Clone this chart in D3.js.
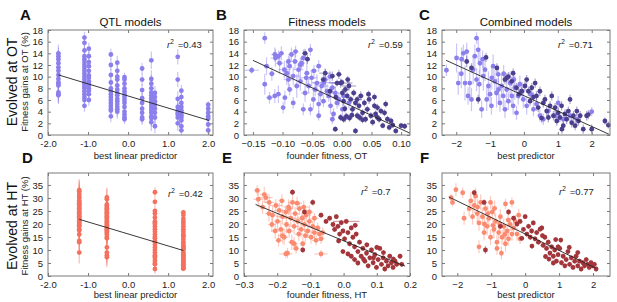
<!DOCTYPE html>
<html>
<head>
<meta charset="utf-8">
<script src="https://cdn.jsdelivr.net/npm/d3@7"></script>
<style>
  body { margin: 0; background: #fff; }
  svg { display: block; font-family: "Liberation Sans", Arial, sans-serif; }
</style>
</head>
<body>
<svg id="fig" width="617" height="302"></svg>
<script>
// ---- data ----

// A: QTL models, evolved at OT (columns of genotypes at the same predictor value)
const qtlOTCols = [-1.74, -1.09, -0.98, -0.43, -0.27, -0.09, 0.35, 0.58, 0.67, 1.24, 1.33, 2.0];
const qtlOTVals = [
  [14.0, 13.5, 13.0, 12.3, 11.6, 11.0, 10.3, 9.6, 9.0, 8.8, 8.5, 7.3, 7.0, 6.8],
  [16.7, 15.8, 14.5, 13.5, 13.0, 12.5, 12.0, 11.5, 11.0, 10.5, 10.0, 9.5, 9.0, 8.7, 8.3, 8.0, 7.5, 7.0, 6.5, 6.0, 5.0],
  [14.8, 13.5, 12.5, 11.8, 11.0, 10.2, 9.8, 9.2, 8.8, 8.5, 8.0, 7.6, 7.0, 6.0],
  [13.8, 12.0, 10.3, 9.0, 8.0, 7.5, 7.0, 6.5, 6.0, 5.5, 5.0, 4.5, 4.2, 3.2],
  [12.4, 11.0, 10.0, 9.5, 8.5, 7.8, 7.2, 6.8, 6.2, 5.8, 5.3, 4.8, 4.4, 4.0],
  [9.9, 9.5, 8.8, 8.0, 7.5, 7.0, 6.5, 6.0, 5.5, 4.8, 4.0, 3.5, 3.0, 2.7],
  [11.4, 9.5, 7.7, 6.3, 5.5, 4.5, 3.8, 3.0, 2.7],
  [12.8, 9.6, 8.8, 8.0, 7.3, 6.8, 6.3, 5.8, 5.3, 4.8, 4.3, 3.8, 3.2, 2.9, 2.2],
  [7.2, 6.5, 5.8, 5.2, 4.5, 3.8, 3.0, 1.5],
  [13.4, 9.5, 6.2, 4.8, 4.2, 3.8, 3.5, 3.0, 2.0],
  [7.6, 6.5, 5.5, 4.8, 4.2, 3.8, 3.4, 3.0, 2.5, 1.5, 0.8],
  [5.2, 4.5, 3.8, 3.2, 2.8, 1.8, 0.8]
];
const qtlOTErr = [1.5, 1.0, 1.0, 1.0, 1.2, 0.8, 1.0, 1.5, 1.2, 1.3, 1.0, 0.6];
const qtlOTLine = [[-1.74, 10.3], [2.02, 2.5]];

// D: QTL models, evolved at HT
const qtlHTCols = [-1.22, -0.53, 0.67, 1.38];
const qtlHTVals = [
  [33.0, 32.5, 31.5, 30.5, 30.0, 29.0, 28.5, 28.0, 27.5, 27.0, 26.5, 26.0, 25.5, 25.0, 24.5, 24.0, 23.5, 23.0, 22.5, 22.0, 21.5, 21.0, 20.5, 20.0, 19.5, 19.0, 18.0, 17.5, 16.0, 13.5, 13.0, 9.0],
  [30.2, 29.5, 27.5, 27.0, 26.5, 26.0, 25.5, 25.0, 24.5, 24.0, 23.5, 23.0, 22.5, 22.0, 21.5, 21.0, 20.5, 20.0, 19.5, 19.0, 18.5, 18.0, 17.5, 17.0, 16.5, 16.0, 15.0, 14.5, 11.0, 9.0, 8.0, 7.2],
  [32.2, 28.5, 25.0, 24.0, 22.5, 21.0, 20.5, 20.0, 19.0, 18.0, 17.0, 16.0, 15.0, 14.5, 13.5, 13.0, 12.0, 11.0, 10.0, 9.0, 8.0, 7.5, 7.0, 6.0, 5.0, 4.5, 2.7],
  [24.5, 23.5, 22.0, 21.0, 20.0, 19.0, 18.0, 17.0, 16.0, 15.5, 15.0, 14.0, 13.0, 12.0, 11.5, 11.0, 10.5, 10.0, 9.0, 8.5, 8.0, 7.5, 7.0, 6.5, 6.0, 5.5, 5.0, 4.5, 4.0, 3.5, 3.0, 2.8]
];
const qtlHTErr = [4.2, 3.8, 1.8, 1.0];
const qtlHTLine = [[-1.22, 21.8], [1.38, 9.8]];

// B: fitness models, OT  [founder fitness, gain, x err, y err]
const fitOTLight = [
  [-0.152, 11.1, 0.012, 0.6], [-0.130, 16.6, 0.004, 1.0], [-0.130, 8.7, 0.004, 1.8], [-0.127, 11.8, 0.005, 1.5],
  [-0.122, 6.4, 0.006, 1.0], [-0.113, 6.7, 0.005, 1.2], [-0.113, 13.8, 0.006, 1.2], [-0.112, 13.2, 0.008, 1.5],
  [-0.107, 13.5, 0.005, 1.0], [-0.107, 7.0, 0.004, 1.5], [-0.105, 12.3, 0.006, 1.8], [-0.102, 14.0, 0.004, 1.2],
  [-0.099, 4.7, 0.003, 1.0], [-0.097, 11.2, 0.010, 1.5], [-0.096, 6.4, 0.004, 1.2], [-0.093, 10.6, 0.006, 2.0],
  [-0.090, 12.6, 0.005, 1.0], [-0.090, 9.5, 0.008, 1.5], [-0.088, 11.8, 0.004, 1.6], [-0.088, 7.8, 0.005, 1.0],
  [-0.085, 13.8, 0.006, 1.2], [-0.082, 10.1, 0.012, 1.5], [-0.082, 5.5, 0.004, 1.0], [-0.079, 12.6, 0.005, 1.4],
  [-0.076, 8.4, 0.006, 2.0], [-0.073, 11.2, 0.008, 1.2], [-0.070, 9.2, 0.005, 1.6], [-0.068, 12.3, 0.006, 1.0],
  [-0.065, 13.2, 0.005, 1.5], [-0.065, 4.4, 0.004, 1.0], [-0.062, 7.2, 0.007, 1.5], [-0.059, 10.6, 0.005, 2.0],
  [-0.056, 8.4, 0.006, 1.2], [-0.053, 14.6, 0.004, 1.0], [-0.053, 4.4, 0.004, 1.0], [-0.051, 9.8, 0.010, 1.4],
  [-0.048, 6.1, 0.004, 1.6], [-0.045, 7.8, 0.006, 1.2], [-0.042, 8.9, 0.008, 1.5], [-0.039, 11.8, 0.005, 1.0],
  [-0.039, 5.3, 0.004, 1.5], [-0.039, 3.3, 0.004, 0.8], [-0.036, 7.0, 0.006, 1.2], [-0.034, 8.4, 0.012, 1.5],
  [-0.031, 5.8, 0.005, 1.0], [-0.028, 9.5, 0.006, 1.8], [-0.025, 7.5, 0.005, 1.2], [-0.022, 6.7, 0.004, 1.0],
  [-0.019, 5.0, 0.005, 1.4], [-0.016, 8.1, 0.006, 1.0], [-0.016, 2.7, 0.004, 0.8], [-0.014, 3.6, 0.004, 1.0],
  [-0.011, 7.2, 0.008, 1.2], [-0.008, 5.5, 0.005, 1.0], [-0.005, 6.1, 0.004, 1.2], [0.001, 4.4, 0.004, 1.0],
  [0.003, 6.7, 0.005, 1.0], [0.006, 3.0, 0.004, 0.8], [0.012, 5.5, 0.005, 1.0], [-0.118, 10.5, 0.005, 1.2],
  [-0.078, 14.3, 0.005, 1.0], [-0.060, 9.8, 0.015, 1.0], [-0.070, 12.0, 0.006, 1.2], [-0.047, 11.0, 0.006, 1.0],
  [-0.030, 9.0, 0.020, 0.8], [-0.020, 10.0, 0.006, 1.0]
];
const fitOTDark = [
  [-0.062, 14.0, 0.005, 0.8], [-0.058, 13.0, 0.004, 0.8], [-0.031, 9.5, 0.005, 0.8], [-0.028, 10.6, 0.010, 0.8],
  [-0.016, 10.1, 0.005, 0.8], [-0.008, 8.9, 0.006, 0.6], [-0.005, 10.4, 0.005, 0.8], [-0.002, 8.9, 0.020, 0.8],
  [0.001, 7.2, 0.004, 0.6], [0.003, 5.8, 0.005, 0.8], [0.006, 7.8, 0.006, 0.6], [0.009, 6.7, 0.004, 0.6],
  [0.012, 8.4, 0.012, 0.8], [0.015, 6.1, 0.004, 0.6], [0.018, 4.4, 0.005, 0.6], [0.020, 7.2, 0.005, 0.6],
  [0.023, 5.5, 0.004, 0.6], [0.023, 0.7, 0.004, 0.5], [0.026, 3.3, 0.004, 0.6], [0.026, 6.1, 0.008, 0.6],
  [0.029, 5.0, 0.004, 0.6], [0.032, 6.7, 0.005, 0.8], [0.035, 3.8, 0.004, 0.6], [0.038, 5.5, 0.004, 0.6],
  [0.040, 2.7, 0.004, 0.6], [0.043, 4.4, 0.005, 0.6], [0.046, 6.1, 0.004, 0.8], [0.049, 3.3, 0.004, 0.6],
  [0.052, 2.2, 0.004, 0.6], [0.055, 5.0, 0.004, 0.6], [0.057, 3.6, 0.004, 0.6], [0.060, 4.7, 0.004, 0.6],
  [0.063, 2.7, 0.004, 0.6], [0.066, 4.1, 0.004, 0.6], [0.069, 1.6, 0.004, 0.5], [0.072, 3.8, 0.004, 0.6],
  [0.074, 5.3, 0.004, 0.6], [0.077, 2.7, 0.004, 0.6], [0.080, 1.3, 0.004, 0.5], [0.083, 2.4, 0.004, 0.6],
  [0.086, 1.7, 0.004, 0.5], [0.091, 0.7, 0.004, 0.5], [0.100, 1.6, 0.004, 0.5], [0.106, 1.5, 0.004, 0.5],
  [-0.011, 1.0, 0.004, 0.5], [-0.002, 3.0, 0.004, 0.6], [0.003, 2.7, 0.004, 0.6], [0.008, 3.2, 0.004, 0.6],
  [0.013, 2.9, 0.004, 0.6], [0.017, 3.4, 0.004, 0.6], [0.030, 3.0, 0.004, 0.6], [0.035, 2.6, 0.004, 0.6],
  [-0.010, 6.5, 0.004, 0.6], [0.000, 9.0, 0.004, 0.6], [0.010, 9.5, 0.004, 0.6], [-0.020, 7.5, 0.004, 0.6],
  [0.005, 4.5, 0.004, 0.6], [0.045, 7.0, 0.004, 0.6], [0.055, 6.5, 0.004, 0.6], [0.060, 3.0, 0.004, 0.6]
];
const fitOTLine = [[-0.15, 12.8], [0.115, 0.3]];

// C: combined models, OT  [best predictor, gain, y err]
const combOTLight = [
  [-2.29, 11.1, 1.0], [-1.99, 13.2, 2.5], [-1.94, 8.9, 2.0], [-1.84, 13.0, 2.0], [-1.79, 14.0, 1.5],
  [-1.74, 8.9, 3.0], [-1.69, 14.3, 1.5], [-1.65, 6.7, 1.5], [-1.60, 8.9, 2.5], [-1.55, 6.1, 2.0],
  [-1.50, 11.2, 2.5], [-1.45, 13.5, 2.0], [-1.40, 16.6, 1.0], [-1.35, 14.6, 2.0], [-1.32, 8.7, 2.5],
  [-1.30, 12.3, 2.0], [-1.25, 4.4, 1.5], [-1.20, 10.1, 2.5], [-1.15, 11.2, 2.0], [-1.10, 6.1, 2.0],
  [-1.05, 8.4, 2.5], [-1.00, 7.0, 2.0], [-0.96, 5.0, 1.5], [-0.91, 11.8, 2.0], [-0.86, 9.2, 2.0],
  [-0.81, 7.2, 2.5], [-0.76, 10.4, 1.5], [-0.71, 5.5, 1.5], [-0.66, 8.4, 2.0], [-0.61, 6.7, 2.0],
  [-0.56, 4.4, 1.5], [-0.51, 7.8, 2.0], [-0.46, 5.8, 1.5], [-0.41, 8.9, 2.0], [-0.36, 6.7, 1.5],
  [-0.32, 5.0, 1.5], [-0.27, 8.1, 2.0], [-0.22, 3.8, 1.2], [-0.17, 6.7, 1.5], [-0.12, 8.7, 1.5],
  [-0.02, 6.1, 1.5], [0.08, 5.0, 1.5], [0.28, 4.4, 1.2], [0.37, 5.3, 1.2], [0.47, 3.3, 1.0],
  [0.57, 2.7, 1.0], [0.72, 4.1, 1.2], [0.92, 3.3, 1.0], [1.01, 5.5, 1.2], [1.16, 2.7, 1.0],
  [1.36, 3.3, 1.0], [1.56, 2.7, 1.0], [2.00, 4.0, 0.8], [-1.85, 10.5, 2.5], [-1.40, 9.5, 2.0],
  [-0.95, 9.8, 2.0], [-0.60, 10.5, 1.5], [-0.30, 9.5, 1.5], [-0.05, 7.5, 1.5], [0.20, 7.0, 1.5],
  [-1.22, 13.0, 1.5], [-0.75, 7.8, 2.0]
];
const combOTDark = [
  [-1.69, 12.6, 1.0], [-1.35, 6.1, 0.8], [-1.12, 13.3, 0.8], [-0.56, 9.5, 0.8], [-0.51, 9.8, 0.8],
  [-0.46, 10.0, 0.8], [-0.36, 9.2, 0.8], [-0.32, 10.6, 0.8], [-0.22, 8.1, 0.8], [-0.07, 7.5, 0.8],
  [0.03, 8.4, 0.8], [0.08, 9.5, 0.8], [0.13, 7.5, 0.8], [0.23, 8.1, 0.8], [0.33, 8.9, 0.8],
  [0.37, 6.7, 0.8], [0.42, 4.7, 0.8], [0.47, 7.5, 0.8], [0.57, 5.5, 0.8], [0.62, 6.1, 0.8],
  [0.67, 4.1, 0.8], [0.77, 5.0, 0.8], [0.82, 6.7, 0.8], [0.87, 3.3, 0.8], [0.92, 4.7, 0.8],
  [0.97, 2.4, 0.8], [1.01, 3.8, 0.8], [1.06, 3.0, 0.8], [1.11, 5.0, 0.8], [1.16, 1.6, 0.8],
  [1.21, 3.6, 0.8], [1.26, 2.7, 0.8], [1.31, 4.1, 0.8], [1.36, 6.1, 0.8], [1.41, 2.1, 0.8],
  [1.46, 3.3, 0.8], [1.51, 1.6, 0.8], [1.56, 4.1, 0.8], [1.61, 2.4, 0.8], [1.66, 3.3, 0.8],
  [1.75, 1.0, 0.8], [1.85, 3.3, 0.8], [1.90, 3.5, 0.8], [2.00, 1.0, 0.8], [2.39, 2.4, 0.6],
  [2.49, 1.7, 0.6], [1.12, 1.0, 0.8], [0.52, 2.9, 0.8], [0.72, 3.0, 0.8], [-0.15, 7.0, 0.8],
  [0.18, 5.8, 0.8], [0.28, 6.5, 0.8], [-1.55, 11.5, 0.8], [-0.80, 11.5, 0.8]
];
const combOTLine = [[-2.3, 12.8], [2.52, 0.1]];

// E: fitness models, HT  [founder fitness, gain, x err, y err]
const fitHTLight = [
  [-0.260, 32.9, 0.010, 2.0], [-0.257, 29.5, 0.015, 3.0], [-0.244, 26.5, 0.010, 2.5], [-0.239, 31.3, 0.012, 3.0],
  [-0.234, 30.1, 0.020, 2.0], [-0.224, 28.3, 0.015, 3.0], [-0.214, 23.4, 0.012, 3.5], [-0.204, 27.1, 0.020, 2.5],
  [-0.199, 21.0, 0.010, 3.0], [-0.194, 25.2, 0.015, 3.0], [-0.189, 17.9, 0.012, 3.5], [-0.186, 28.9, 0.010, 2.5],
  [-0.184, 22.8, 0.020, 3.0], [-0.179, 14.9, 0.012, 3.0], [-0.174, 24.6, 0.015, 2.5], [-0.174, 8.5, 0.020, 1.5],
  [-0.172, 19.8, 0.010, 3.5], [-0.169, 8.8, 0.008, 2.0], [-0.166, 26.5, 0.015, 3.0], [-0.164, 17.3, 0.012, 2.5],
  [-0.159, 22.2, 0.020, 3.0], [-0.156, 13.0, 0.010, 3.0], [-0.154, 28.3, 0.012, 2.5], [-0.149, 19.1, 0.015, 3.0],
  [-0.146, 24.0, 0.010, 2.5], [-0.143, 10.6, 0.008, 2.0], [-0.138, 21.0, 0.015, 3.0], [-0.135, 16.1, 0.012, 2.5],
  [-0.133, 25.9, 0.010, 2.5], [-0.128, 17.9, 0.012, 3.0], [-0.125, 22.2, 0.015, 2.5], [-0.123, 12.4, 0.010, 2.5],
  [-0.118, 19.8, 0.012, 3.0], [-0.115, 15.5, 0.010, 2.5], [-0.113, 23.4, 0.015, 2.5], [-0.108, 17.3, 0.012, 2.5],
  [-0.103, 21.0, 0.010, 2.5], [-0.098, 14.9, 0.012, 2.5], [-0.093, 19.1, 0.015, 2.0], [-0.088, 16.7, 0.010, 2.5],
  [-0.083, 13.7, 0.012, 2.0], [-0.078, 18.5, 0.010, 2.0], [-0.073, 16.1, 0.012, 2.0], [-0.068, 14.3, 0.010, 2.0],
  [-0.068, 8.5, 0.020, 1.5], [-0.063, 16.7, 0.010, 2.0], [-0.216, 19.8, 0.012, 3.0], [-0.206, 17.3, 0.012, 3.0],
  [-0.196, 13.7, 0.010, 2.5], [-0.149, 12.4, 0.010, 2.5], [-0.184, 15.5, 0.012, 3.0], [-0.103, 24.6, 0.012, 2.5],
  [-0.088, 22.2, 0.012, 2.0], [-0.164, 25.9, 0.012, 2.5], [-0.225, 24.0, 0.012, 3.0], [-0.140, 28.0, 0.015, 2.5],
  [-0.120, 26.5, 0.015, 2.5]
];
const fitHTDark = [
  [-0.154, 32.2, 0.006, 1.2], [-0.118, 24.6, 0.006, 1.0], [-0.093, 28.3, 0.006, 1.2], [-0.123, 10.0, 0.006, 1.0],
  [-0.068, 23.4, 0.006, 1.0], [-0.053, 21.0, 0.006, 1.0], [-0.042, 22.2, 0.006, 1.0], [-0.032, 19.8, 0.006, 1.0],
  [-0.027, 17.9, 0.006, 1.0], [-0.022, 22.8, 0.006, 1.0], [-0.017, 19.1, 0.006, 1.0], [-0.012, 16.1, 0.006, 1.0],
  [-0.007, 20.5, 0.006, 1.0], [-0.002, 17.3, 0.006, 1.0], [0.003, 14.3, 0.006, 1.0], [0.008, 21.0, 0.040, 1.0],
  [0.013, 16.7, 0.006, 1.0], [0.018, 12.4, 0.006, 1.0], [0.023, 18.5, 0.006, 1.0], [0.028, 14.9, 0.006, 1.0],
  [0.033, 11.2, 0.006, 1.0], [0.038, 16.1, 0.006, 1.0], [0.043, 9.4, 0.006, 1.0], [0.048, 13.0, 0.006, 1.0],
  [0.053, 7.6, 0.006, 1.0], [0.058, 10.6, 0.006, 1.0], [0.064, 5.7, 0.006, 1.0], [0.069, 8.8, 0.006, 1.0],
  [0.074, 3.9, 0.006, 1.0], [0.079, 7.0, 0.006, 1.0], [0.084, 10.0, 0.006, 1.0], [0.089, 5.1, 0.006, 1.0],
  [0.094, 8.2, 0.006, 1.0], [0.099, 3.3, 0.006, 1.0], [0.104, 6.3, 0.006, 1.0], [0.109, 10.6, 0.006, 1.0],
  [0.114, 4.5, 0.006, 1.0], [0.119, 7.0, 0.006, 1.0], [0.124, 2.7, 0.006, 1.0], [0.129, 5.7, 0.006, 1.0],
  [0.134, 3.9, 0.006, 1.0], [0.139, 7.6, 0.006, 1.0], [0.144, 5.1, 0.006, 1.0], [0.149, 3.3, 0.006, 1.0],
  [0.155, 5.7, 0.006, 1.0], [0.160, 4.5, 0.006, 1.0], [0.170, 7.6, 0.006, 1.0], [0.175, 4.5, 0.006, 1.0],
  [0.013, 8.5, 0.006, 1.0], [0.023, 7.6, 0.006, 1.0], [0.033, 6.3, 0.006, 1.0], [-0.002, 9.4, 0.006, 1.0],
  [0.043, 5.0, 0.006, 1.0], [0.060, 6.5, 0.006, 1.0], [0.090, 7.0, 0.006, 1.0], [0.120, 9.0, 0.006, 1.0],
  [0.150, 6.5, 0.006, 1.0], [0.070, 12.0, 0.006, 1.0], [0.100, 11.0, 0.006, 1.0], [-0.015, 13.5, 0.006, 1.0],
  [0.035, 19.5, 0.006, 1.0]
];
const fitHTLine = [[-0.265, 27.5], [0.185, 3.8]];

// F: combined models, HT  [best predictor, gain, y err]
const combHTLight = [
  [-2.18, 30.1, 1.5], [-2.14, 28.3, 1.5], [-2.04, 33.2, 2.5], [-1.84, 32.0, 2.0], [-1.80, 22.2, 2.5],
  [-1.65, 25.9, 3.0], [-1.60, 28.9, 3.5], [-1.55, 22.8, 3.0], [-1.50, 27.1, 3.0], [-1.46, 30.7, 3.0],
  [-1.41, 24.0, 3.5], [-1.36, 20.4, 3.0], [-1.36, 11.2, 2.5], [-1.31, 28.3, 3.0], [-1.26, 22.8, 3.5],
  [-1.21, 16.7, 3.0], [-1.17, 25.9, 3.0], [-1.12, 19.1, 3.5], [-1.07, 22.2, 3.0], [-1.02, 14.9, 3.0],
  [-1.02, 28.3, 2.5], [-0.97, 24.6, 3.0], [-0.92, 17.9, 3.5], [-0.87, 21.0, 3.0], [-0.83, 13.0, 3.0],
  [-0.83, 10.6, 2.5], [-0.78, 16.7, 3.0], [-0.73, 22.8, 3.0], [-0.70, 8.8, 2.5], [-0.68, 14.9, 3.0],
  [-0.63, 19.1, 3.0], [-0.58, 12.4, 3.0], [-0.58, 27.7, 2.0], [-0.53, 17.3, 3.0], [-0.49, 14.3, 2.5],
  [-0.44, 19.8, 2.5], [-0.39, 16.1, 2.5], [-0.39, 28.3, 2.0], [-0.34, 18.5, 2.5], [-0.29, 21.0, 2.5],
  [-0.24, 16.1, 2.5], [-0.19, 23.4, 2.5], [-0.15, 14.3, 2.0], [-1.20, 20.0, 3.0], [-0.95, 19.5, 3.0],
  [-0.90, 26.0, 3.0], [-0.60, 16.0, 3.0], [-0.50, 21.5, 2.5], [-1.10, 24.0, 3.0], [-0.75, 20.0, 3.0],
  [-1.40, 26.5, 3.0]
];
const combHTDark = [
  [-1.50, 32.0, 1.2], [-1.21, 28.3, 1.2], [-1.17, 10.0, 1.5], [-0.73, 19.1, 1.0], [-0.49, 24.6, 1.0],
  [-0.34, 22.2, 1.0], [-0.24, 20.0, 1.0], [-0.15, 21.0, 1.0], [-0.05, 17.9, 1.0], [0.00, 22.8, 1.0],
  [0.05, 16.1, 1.0], [0.10, 19.1, 1.0], [0.15, 14.9, 1.0], [0.19, 17.3, 1.0], [0.24, 20.4, 1.0],
  [0.29, 14.3, 1.0], [0.34, 16.7, 1.0], [0.39, 13.0, 1.0], [0.44, 18.0, 1.0], [0.49, 18.5, 1.0],
  [0.51, 15.5, 1.0], [0.53, 11.8, 1.0], [0.58, 14.9, 1.0], [0.63, 10.6, 1.0], [0.68, 13.0, 1.0],
  [0.73, 8.8, 1.0], [0.78, 11.2, 1.0], [0.83, 7.6, 1.0], [0.87, 10.0, 1.0], [0.92, 5.7, 1.0],
  [0.97, 8.2, 1.0], [0.97, 11.2, 1.0], [1.02, 10.6, 1.0], [1.07, 5.1, 1.0], [1.12, 7.6, 1.0],
  [1.17, 3.9, 1.0], [1.21, 6.3, 1.0], [1.26, 9.4, 1.0], [1.31, 4.5, 1.0], [1.36, 7.0, 1.0],
  [1.41, 3.3, 1.0], [1.46, 5.7, 1.0], [1.50, 7.6, 1.0], [1.55, 3.9, 1.0], [1.60, 5.7, 1.0],
  [1.65, 2.7, 1.0], [1.70, 5.1, 1.0], [1.75, 3.9, 1.0], [1.80, 6.3, 1.0], [1.84, 4.5, 1.0],
  [1.89, 3.3, 1.0], [1.94, 5.1, 1.0], [1.99, 3.9, 1.0], [2.04, 4.5, 1.0], [2.09, 2.7, 1.0],
  [0.83, 5.0, 1.0], [0.70, 6.5, 1.0], [0.60, 7.5, 1.0], [1.30, 11.0, 1.0], [1.05, 13.8, 1.0],
  [0.90, 14.0, 1.0], [-0.10, 14.5, 1.0], [0.20, 11.5, 1.0], [1.55, 9.0, 1.0]
];
const combHTLine = [[-2.25, 30.4], [2.08, 3.0]];

const rSquared = ["0.43", "0.59", "0.71", "0.42", "0.7", "0.77"];
const otTicks = [0, 2, 4, 6, 8, 10, 12, 14, 16, 18];
const htTicks = [0, 5, 10, 15, 20, 25, 30, 35];

// ---- drawing ----
const svg = d3.select("#fig");

const purple = "#8a7fec", purpleDark = "#4c3f8e";
const salmon = "#f4715f", salmonLight = "#fa8a70", brick = "#a3363b";

// turn the column layout into points
function fromCols(cols, vals, errs) {
  const pts = [];
  cols.forEach((cx, i) => vals[i].forEach(v => pts.push([cx, v, 0, errs[i]])));
  return pts;
}
const noXerr = d => [d[0], d[1], 0, d[2]];

const hyphenFmt = f => v => d3.format(f)(v).replace("\u2212", "-");

function panel(o) {
  const x = d3.scaleLinear().domain(o.xDom).range([o.left, o.right]);
  const y = d3.scaleLinear().domain(o.yDom).range([o.bottom, o.top]);
  const g = svg.append("g");

  // error bars under the dots
  o.series.forEach(s => {
    const eb = g.append("g").attr("stroke", s.color).attr("stroke-opacity", 0.45).attr("stroke-width", 1.2);
    eb.selectAll("line.v").data(s.pts).join("line").attr("class", "v")
      .attr("x1", d => x(d[0])).attr("x2", d => x(d[0]))
      .attr("y1", d => y(Math.max(0, d[1] - d[3]))).attr("y2", d => y(d[1] + d[3]));
    eb.selectAll("line.h").data(s.pts.filter(d => d[2] > 0)).join("line").attr("class", "h")
      .attr("x1", d => x(d[0] - d[2])).attr("x2", d => x(d[0] + d[2]))
      .attr("y1", d => y(d[1])).attr("y2", d => y(d[1]));
  });
  o.series.forEach(s => {
    g.append("g").selectAll("circle").data(s.pts).join("circle")
      .attr("cx", d => x(d[0])).attr("cy", d => y(d[1])).attr("r", 2.4)
      .attr("fill", s.color);
  });

  // fitted line
  g.append("path").datum(o.line)
    .attr("d", d3.line().x(d => x(d[0])).y(d => y(d[1])))
    .attr("stroke", "#222").attr("stroke-width", 0.9).attr("fill", "none");

  // frame and inward ticks on all four sides
  g.append("rect").attr("x", o.left).attr("y", o.top)
    .attr("width", o.right - o.left).attr("height", o.bottom - o.top)
    .attr("fill", "none").attr("stroke", "#7a7a7a").attr("stroke-width", 1);

  const axes = [
    [d3.axisBottom(x).tickValues(o.xTicks).tickFormat(o.xFmt), `translate(0,${o.bottom})`, 5],
    [d3.axisTop(x).tickValues(o.xTicks).tickFormat(""), `translate(0,${o.top})`, 4],
    [d3.axisLeft(y).tickValues(o.yTicks).tickFormat(d3.format("d")), `translate(${o.left},0)`, 5],
    [d3.axisRight(y).tickValues(o.yTicks).tickFormat(""), `translate(${o.right},0)`, 4]
  ];
  axes.forEach(([ax, tr, pad]) => {
    const a = g.append("g").attr("transform", tr)
      .call(ax.tickSize(-3).tickPadding(pad));
    a.select(".domain").remove();
    a.selectAll("line").attr("stroke", "#7a7a7a");
    a.attr("font-family", null).attr("font-size", 9.5);
    a.selectAll("text").attr("fill", "#222");
  });

  // r^2 label
  const t = g.append("text").attr("x", o.rx).attr("y", o.ry).attr("font-size", 9.5).attr("fill", "#222");
  t.append("tspan").attr("font-style", "italic").text("r");
  t.append("tspan").attr("dy", -4).attr("font-size", 6.5).text("2");
  t.append("tspan").attr("dy", 4).attr("dx", 4).text("=" + o.r2);

  // x axis title
  g.append("text").attr("x", (o.left + o.right) / 2 + (o.titleShift || 0)).attr("y", o.bottom + o.titleGap)
    .attr("text-anchor", "middle").attr("font-size", 9.5).attr("fill", "#222").text(o.xTitle);

  // panel letter
  g.append("text").attr("x", o.letterX).attr("y", o.top - 10).attr("font-size", 15)
    .attr("font-weight", "bold").attr("fill", "#111").text(o.letter);

  if (o.title) {
    g.append("text").attr("x", (o.left + o.right) / 2).attr("y", o.top - 4)
      .attr("text-anchor", "middle").attr("font-size", 11.5).attr("fill", "#111").text(o.title);
  }
}

const topRow = { top: 30, bottom: 135, yDom: [0, 18], yTicks: otTicks, titleGap: 24 };
const botRow = { top: 173, bottom: 276, yDom: [0, 39.6], yTicks: htTicks, titleGap: 22 };

panel({ ...topRow, left: 48, right: 213, xDom: [-2.0, 2.12], xTicks: [-2, -1, 0, 1, 2], xFmt: hyphenFmt(".1f"),
  series: [{ pts: fromCols(qtlOTCols, qtlOTVals, qtlOTErr), color: purple }], line: qtlOTLine,
  r2: rSquared[0], rx: 167, ry: 48, xTitle: "best linear predictor", titleShift: 5, letter: "A", letterX: 20, title: "QTL models" });

panel({ ...topRow, left: 244, right: 410, xDom: [-0.165, 0.115], xTicks: [-0.15, -0.1, -0.05, 0, 0.05, 0.1], xFmt: d3.format(".2f"),
  series: [{ pts: fitOTLight, color: purple }, { pts: fitOTDark, color: purpleDark }], line: fitOTLine,
  r2: rSquared[1], rx: 368, ry: 48, xTitle: "founder fitness, OT", letter: "B", letterX: 216, title: "Fitness models" });

panel({ ...topRow, left: 442, right: 610, xDom: [-2.42, 2.54], xTicks: [-2, -1, 0, 1, 2], xFmt: d3.format("d"),
  series: [{ pts: combOTLight.map(noXerr), color: purple }, { pts: combOTDark.map(noXerr), color: purpleDark }], line: combOTLine,
  r2: rSquared[2], rx: 558, ry: 48, xTitle: "best predictor", letter: "C", letterX: 419, title: "Combined models" });

panel({ ...botRow, left: 48, right: 213, xDom: [-2.0, 2.12], xTicks: [-2, -1, 0, 1, 2], xFmt: hyphenFmt(".1f"),
  series: [{ pts: fromCols(qtlHTCols, qtlHTVals, qtlHTErr), color: salmon }], line: qtlHTLine,
  r2: rSquared[3], rx: 168, ry: 197, xTitle: "best linear predictor", titleShift: 5, letter: "D", letterX: 22 });

panel({ ...botRow, left: 244, right: 410, xDom: [-0.3, 0.2], xTicks: [-0.3, -0.2, -0.1, 0, 0.1, 0.2], xFmt: d3.format(".1f"),
  series: [{ pts: fitHTLight, color: salmonLight }, { pts: fitHTDark, color: brick }], line: fitHTLine,
  r2: rSquared[4], rx: 361, ry: 195, xTitle: "founder fitness, HT", letter: "E", letterX: 222 });

panel({ ...botRow, left: 442, right: 610, xDom: [-2.45, 2.5], xTicks: [-2, -1, 0, 1, 2], xFmt: d3.format("d"),
  series: [{ pts: combHTLight.map(noXerr), color: salmonLight }, { pts: combHTDark.map(noXerr), color: brick }], line: combHTLine,
  r2: rSquared[5], rx: 559, ry: 195, xTitle: "best predictor", letter: "F", letterX: 420 });

// row labels
[["Evolved at OT", "Fitness gains at OT (%)", 82], ["Evolved at HT", "Fitness gains at HT (%)", 226]].forEach(([a, b, cy]) => {
  svg.append("text").attr("transform", `translate(17,${cy}) rotate(-90)`).attr("text-anchor", "middle")
    .attr("font-size", 14).attr("fill", "#111").text(a);
  svg.append("text").attr("transform", `translate(28,${cy}) rotate(-90)`).attr("text-anchor", "middle")
    .attr("font-size", 9.5).attr("fill", "#222").text(b);
});
</script>
</body>
</html>
